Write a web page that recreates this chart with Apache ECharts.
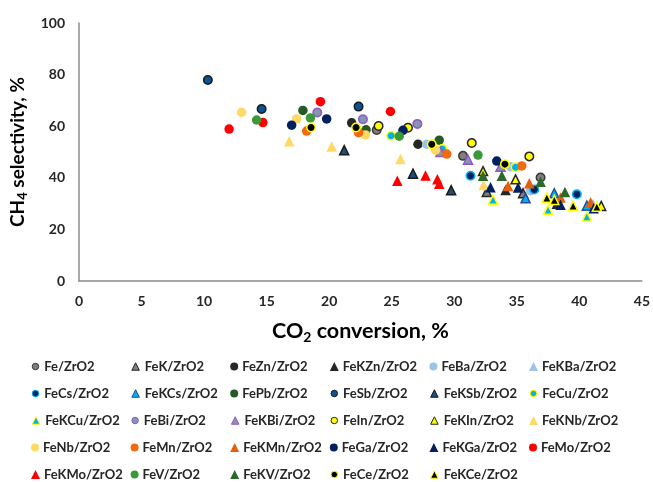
<!DOCTYPE html>
<html>
<head>
<meta charset="utf-8">
<script src="https://cdn.jsdelivr.net/npm/echarts@6/dist/echarts.min.js"></script>
<style>
  html, body { margin: 0; padding: 0; background: #fff; }
  #chart { width: 653px; height: 482px; }
</style>
</head>
<body>
<div id="chart"></div>
<script>
// Axis ticks
const xTicks = [0, 5, 10, 15, 20, 25, 30, 35, 40, 45];
const yTicks = [0, 20, 40, 60, 80, 100];

// Catalyst names, in legend order
const catalysts = [
  'Fe/ZrO2', 'FeK/ZrO2', 'FeZn/ZrO2', 'FeKZn/ZrO2', 'FeBa/ZrO2', 'FeKBa/ZrO2',
  'FeCs/ZrO2', 'FeKCs/ZrO2', 'FePb/ZrO2', 'FeSb/ZrO2', 'FeKSb/ZrO2', 'FeCu/ZrO2',
  'FeKCu/ZrO2', 'FeBi/ZrO2', 'FeKBi/ZrO2', 'FeIn/ZrO2', 'FeKIn/ZrO2', 'FeKNb/ZrO2',
  'FeNb/ZrO2', 'FeMn/ZrO2', 'FeKMn/ZrO2', 'FeGa/ZrO2', 'FeKGa/ZrO2', 'FeMo/ZrO2',
  'FeKMo/ZrO2', 'FeV/ZrO2', 'FeKV/ZrO2', 'FeCe/ZrO2', 'FeKCe/ZrO2'
];

// [CO2 conversion %, CH4 selectivity %] for each catalyst
const fe    = [[23.8, 58.5], [30.7, 48.5], [36.9, 40.1]];
const feK   = [[32.6, 34.5], [35.5, 34.0]];
const feZn  = [[21.8, 61.3], [27.1, 53.0]];
const feKZn = [[34.1, 35.3], [38.2, 29.9]];
const feBa  = [[27.8, 53.0], [34.5, 44.3], [36.1, 35.0]];
const feKBa = [[41.1, 29.8]];
const feCs  = [[31.3, 40.8], [36.4, 35.5], [39.8, 33.6]];
const feKCs = [[35.7, 32.1], [38.0, 34.0], [40.6, 29.2]];
const fePb  = [[17.9, 66.1], [22.95, 58.6], [28.8, 54.6]];
const feSb  = [[10.3, 77.9], [14.6, 66.7], [22.35, 67.6]];
const feKSb = [[21.2, 50.7], [26.7, 41.6], [29.75, 35.2]];
const feCu  = [[24.95, 56.3], [29.05, 51.2], [34.9, 44.1]];
const feKCu = [[33.1, 31.5], [37.5, 27.6], [40.6, 25.0]];
const feBi  = [[19.05, 65.3], [22.7, 62.7], [27.05, 60.9]];
const feKBi = [[28.9, 50.0], [31.1, 47.0], [33.7, 44.3]];
const feIn  = [[23.95, 60.1], [26.3, 59.4], [31.4, 53.5], [36.0, 48.3]];
const feKIn = [[32.3, 42.6], [34.9, 39.4], [41.75, 29.1]];
const feKNb = [[16.8, 54.2], [20.2, 52.1], [25.7, 47.3], [32.35, 37.2]];
const feNb  = [[13.0, 65.4], [17.4, 62.8], [22.9, 56.6], [28.5, 50.7]];
const feMn  = [[18.2, 58.1], [22.35, 57.5], [29.4, 49.2], [35.4, 44.6]];
const feKMn = [[34.3, 36.8], [36.0, 37.9], [38.5, 32.4], [40.9, 30.5]];
const feGa  = [[17.0, 60.4], [19.8, 62.8], [25.9, 58.4], [33.4, 46.5]];
const feKGa = [[32.9, 36.3], [35.1, 36.2], [38.5, 29.6], [41.15, 28.2]];
const feMo  = [[12.0, 58.9], [14.7, 61.4], [19.3, 69.5], [24.9, 65.7]];
const feKMo = [[25.45, 38.9], [27.7, 40.9], [28.65, 39.4], [28.8, 37.7]];
const feV   = [[14.2, 62.4], [18.5, 63.2], [25.6, 56.1], [31.9, 48.8]];
const feKV  = [[32.3, 40.8], [33.8, 40.8], [36.9, 38.5], [38.85, 34.5]];
const feCe  = [[18.55, 59.5], [22.15, 59.5], [28.2, 53.0], [34.05, 45.3]];
const feKCe = [[37.4, 32.3], [38.0, 31.4], [39.5, 29.2], [41.4, 28.8]];

const seriesData = [
  fe, feK, feZn, feKZn, feBa, feKBa,
  feCs, feKCs, fePb, feSb, feKSb, feCu,
  feKCu, feBi, feKBi, feIn, feKIn, feKNb,
  feNb, feMn, feKMn, feGa, feKGa, feMo,
  feKMo, feV, feKV, feCe, feKCe
];

// Marker look per catalyst: shape, fill, outline
const C = 'circle', T = 'triangle';
const markStyles = [
  [C, '#7f7f7f', '#3a3a3a'], [T, '#7f7f7f', '#262626'], [C, '#262626', null], [T, '#262626', null],
  [C, '#9dc3e6', null], [T, '#9dc3e6', null],
  [C, '#002060', '#00b0f0'], [T, '#00b0f0', '#1f4e9a'], [C, '#245b24', null], [C, '#0b5394', '#1a1a1a'],
  [T, '#1f4e79', '#1a1a1a'], [C, '#00b0f0', '#ffff00'],
  [T, '#00b0f0', '#ffff00'], [C, '#8497b0', '#9257c9'], [T, '#8497b0', '#9257c9'],
  [C, '#ffff00', '#262626'], [T, '#ffff00', '#262626'], [T, '#ffd966', null],
  [C, '#ffd966', null], [C, '#f26a10', null], [T, '#e2600e', null],
  [C, '#002060', null], [T, '#002060', null], [C, '#ff0000', null],
  [T, '#ff0000', null], [C, '#3a9a3a', null], [T, '#2b6a2b', null],
  [C, '#000000', '#ffff00'], [T, '#000000', '#ffff00']
];

const FONT = 'Lato, "Open Sans", sans-serif';

function markSize(shape, edge) {
  if (shape === C) return edge ? 8.5 : 9.5;
  return edge ? 9 : 10.5;
}

const series = catalysts.map((name, i) => {
  const [shape, fill, edge] = markStyles[i];
  return {
    name: name,
    type: 'scatter',
    data: seriesData[i],
    symbol: shape,
    symbolSize: markSize(shape, edge),
    itemStyle: {
      color: fill,
      borderColor: edge || fill,
      borderWidth: edge ? 1.5 : 0,
      opacity: 1
    },
    emphasis: { disabled: true },
    z: 2
  };
});

// One legend block per entry, laid out in a 6-column grid
const legends = catalysts.map((name, i) => {
  const col = i % 6, row = Math.floor(i / 6);
  const [shape, fill, edge] = markStyles[i];
  const box = (shape === C ? 8 : 9) - (edge ? 1.5 : 0);
  return {
    data: [{ name: name, icon: shape }],
    left: 31 + col * 99.6 + (edge ? 0.75 : 0),
    top: 360 + row * 27,
    padding: 0,
    itemWidth: box,
    itemHeight: box,
    itemGap: 0,
    selectedMode: false,
    itemStyle: {
      color: fill,
      borderColor: edge || fill,
      borderWidth: edge ? 1 : 0,
      borderJoin: 'round'
    },
    textStyle: { fontFamily: FONT, fontWeight: 'bold', fontSize: 13, color: '#262626', padding: [0, 0, 0, edge ? 0.5 : -1] }
  };
});

function titleRich(size) {
  return {
    a: { fontFamily: FONT, fontWeight: 'bold', fontSize: size, color: '#000', lineHeight: size + 5 },
    s: { fontFamily: FONT, fontWeight: 'bold', fontSize: Math.round(size * 0.66), color: '#000', lineHeight: size + 5, verticalAlign: 'bottom', padding: [Math.round(size * 0.42), 0, 0, 0] }
  };
}

const chart = echarts.init(document.getElementById('chart'), null, { renderer: 'canvas' });
chart.setOption({
  backgroundColor: '#ffffff',
  animation: false,
  grid: { left: 79, right: 8, top: 23, bottom: 201 },
  legend: legends,
  xAxis: {
    type: 'value',
    min: xTicks[0],
    max: xTicks[xTicks.length - 1],
    interval: xTicks[1] - xTicks[0],
    name: '{a|CO}{s|2}{a| conversion, %}',
    nameLocation: 'middle',
    nameGap: 37,
    nameTextStyle: { rich: titleRich(21.5) },
    axisLine: { onZero: false, lineStyle: { color: '#8c8c8c', width: 1.5 } },
    axisTick: { show: false },
    splitLine: { show: false },
    axisLabel: { fontFamily: FONT, fontWeight: 'bold', fontSize: 14, color: '#262626', margin: 13 }
  },
  yAxis: {
    type: 'value',
    min: yTicks[0],
    max: yTicks[yTicks.length - 1],
    interval: yTicks[1] - yTicks[0],
    name: '{a|CH}{s|4}{a| selectivity, %}',
    nameLocation: 'middle',
    nameGap: 45,
    nameTextStyle: { rich: titleRich(19) },
    axisLine: { show: true, onZero: false, lineStyle: { color: '#8c8c8c', width: 1.5 } },
    axisTick: { show: false },
    splitLine: { show: false },
    axisLabel: { fontFamily: FONT, fontWeight: 'bold', fontSize: 14, color: '#262626', margin: 14 }
  },
  series: series
});
</script>
</body>
</html>
